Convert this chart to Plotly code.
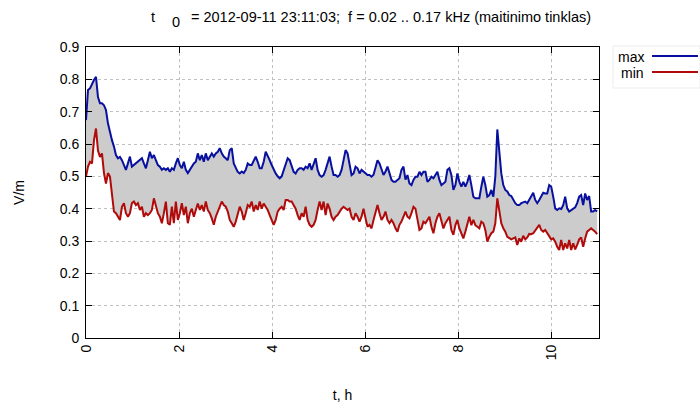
import plotly.graph_objects as go

# sampling interval of the record, hours
dt_h = 10.99 / 256

v_max = [
    0.674, 0.767, 0.772, 0.788, 0.798, 0.808, 0.745, 0.726, 0.726, 0.72,
    0.705, 0.664, 0.633, 0.612, 0.592, 0.566, 0.556, 0.56, 0.55, 0.535,
    0.52, 0.54, 0.561, 0.53, 0.535, 0.54, 0.545, 0.55, 0.556, 0.54,
    0.525, 0.55, 0.576, 0.556, 0.566, 0.55, 0.535, 0.53, 0.52, 0.525,
    0.52, 0.525, 0.514, 0.525, 0.52, 0.54, 0.556, 0.535, 0.525, 0.545,
    0.52, 0.51,
    0.52, 0.53, 0.54, 0.545, 0.571, 0.55, 0.566, 0.545, 0.571, 0.55,
    0.561, 0.571, 0.561, 0.571, 0.576, 0.587, 0.571, 0.561, 0.556, 0.55,
    0.581, 0.587, 0.54, 0.525, 0.514, 0.509, 0.515, 0.51, 0.52, 0.54,
    0.535, 0.535, 0.55, 0.561, 0.545, 0.525, 0.525, 0.545, 0.576, 0.565,
    0.55, 0.535, 0.52, 0.509, 0.5, 0.494, 0.5, 0.52, 0.535, 0.556,
    0.55, 0.535, 0.514, 0.509, 0.52, 0.525,
    0.525, 0.52, 0.53, 0.525, 0.54, 0.52, 0.54, 0.556, 0.52, 0.504,
    0.499, 0.504, 0.52, 0.54, 0.561, 0.53, 0.504, 0.504, 0.499, 0.504,
    0.52, 0.55, 0.581, 0.571, 0.53, 0.504, 0.509, 0.53, 0.525, 0.509,
    0.52, 0.514, 0.509, 0.504, 0.504, 0.499, 0.505, 0.525, 0.55, 0.54,
    0.52, 0.504, 0.515, 0.53, 0.51, 0.489, 0.483, 0.483, 0.489, 0.494,
    0.52, 0.53, 0.49,
    0.504, 0.478, 0.473, 0.489, 0.499, 0.499, 0.514, 0.504, 0.514, 0.514,
    0.483, 0.489, 0.499, 0.494, 0.504, 0.514, 0.489, 0.473, 0.478, 0.483,
    0.52, 0.525, 0.504, 0.458, 0.473, 0.509, 0.483, 0.468, 0.483, 0.468,
    0.483, 0.504, 0.473, 0.437, 0.432, 0.432, 0.432, 0.468, 0.499, 0.473,
    0.437, 0.442, 0.458, 0.437, 0.499, 0.645, 0.575, 0.509, 0.473, 0.458,
    0.453, 0.442,
    0.439, 0.427, 0.417, 0.411, 0.411, 0.417, 0.419, 0.422, 0.417, 0.427,
    0.437, 0.449, 0.427, 0.417, 0.427, 0.439, 0.449, 0.447, 0.447, 0.473,
    0.468, 0.437, 0.401, 0.396, 0.401, 0.399, 0.411, 0.437, 0.401, 0.391,
    0.396, 0.399, 0.404, 0.417, 0.437, 0.442, 0.411, 0.447, 0.427, 0.439,
    0.391, 0.391, 0.396, 0.391,
]

v_min = [
    0.499, 0.53, 0.545, 0.54, 0.612, 0.648, 0.58, 0.56, 0.571, 0.51,
    0.478, 0.51, 0.499, 0.447, 0.391, 0.386, 0.375, 0.365, 0.406, 0.417,
    0.386, 0.375, 0.386, 0.417, 0.422, 0.411, 0.417, 0.396, 0.406, 0.375,
    0.386, 0.38, 0.386, 0.396, 0.432, 0.406, 0.386, 0.375, 0.355, 0.386,
    0.422, 0.355, 0.35, 0.406, 0.355, 0.422, 0.365, 0.386, 0.417, 0.38,
    0.406, 0.355,
    0.386, 0.4, 0.375, 0.396, 0.416, 0.396, 0.411, 0.391, 0.422, 0.396,
    0.386, 0.37, 0.35, 0.375, 0.391, 0.406, 0.422, 0.411, 0.406, 0.391,
    0.365, 0.355, 0.344, 0.36, 0.386, 0.406, 0.391, 0.365, 0.386, 0.411,
    0.406, 0.422, 0.391, 0.411, 0.396, 0.422, 0.4, 0.416, 0.406, 0.396,
    0.38, 0.365, 0.35, 0.365, 0.391, 0.4, 0.406, 0.396, 0.427, 0.427,
    0.422, 0.422, 0.411, 0.4, 0.38, 0.365,
    0.386, 0.375, 0.406, 0.365, 0.35, 0.344, 0.35, 0.365, 0.396, 0.422,
    0.396, 0.422, 0.38, 0.416, 0.4, 0.375, 0.365, 0.375, 0.38, 0.391,
    0.4, 0.406, 0.4, 0.396, 0.4, 0.375, 0.365, 0.386, 0.375, 0.36,
    0.375, 0.4, 0.37, 0.344, 0.35, 0.339, 0.365, 0.391, 0.411, 0.386,
    0.365, 0.375, 0.391, 0.365, 0.355, 0.365, 0.355, 0.339, 0.329, 0.35,
    0.36, 0.375, 0.391,
    0.375, 0.37, 0.386, 0.406, 0.4, 0.365, 0.334, 0.339, 0.36, 0.355,
    0.365, 0.375, 0.344, 0.324, 0.355, 0.375, 0.386, 0.365, 0.339, 0.355,
    0.365, 0.375, 0.334, 0.319, 0.349, 0.365, 0.339, 0.324, 0.308, 0.329,
    0.355, 0.375, 0.349, 0.365, 0.349, 0.344, 0.339, 0.36, 0.355, 0.334,
    0.298, 0.313, 0.324, 0.329, 0.355, 0.432, 0.395, 0.355, 0.339, 0.329,
    0.313, 0.308,
    0.305, 0.308, 0.311, 0.288, 0.308, 0.298, 0.316, 0.305, 0.311, 0.322,
    0.321, 0.324, 0.334, 0.344, 0.35, 0.334, 0.329, 0.334, 0.324, 0.311,
    0.305, 0.308, 0.298, 0.282, 0.272, 0.303, 0.272, 0.293, 0.277, 0.303,
    0.272, 0.293, 0.274, 0.288, 0.305, 0.311, 0.282, 0.308, 0.329, 0.334,
    0.339, 0.334, 0.329, 0.321,
]

t_h = [i * dt_h for i in range(len(v_max))]

x_ticks = [0, 2, 4, 6, 8, 10]
y_ticks = [0, 0.1, 0.2, 0.3, 0.4, 0.5, 0.6, 0.7, 0.8, 0.9]

FONT = "Liberation Sans, Arial, sans-serif"
BLUE = "#0810a0"
RED = "#b00a0a"

L, R, T, B = 86, 101, 47, 68
PW, PH = 700 - L - R, 406 - T - B


def px(xp):
    return (xp - L) / PW


def py(yp):
    return (406 - B - yp) / PH


fig = go.Figure()
# grey band between min and max
fig.add_trace(go.Scatter(x=t_h, y=v_min, mode="lines", line=dict(width=0),
                         showlegend=False, hoverinfo="skip"))
fig.add_trace(go.Scatter(x=t_h, y=v_max, mode="lines", line=dict(width=0),
                         fill="tonexty", fillcolor="rgb(204,204,204)",
                         showlegend=False, hoverinfo="skip"))
fig.add_trace(go.Scatter(x=t_h, y=v_max, mode="lines", name="max",
                         line=dict(color=BLUE, width=2), showlegend=False))
fig.add_trace(go.Scatter(x=t_h, y=v_min, mode="lines", name="min",
                         line=dict(color=RED, width=2), showlegend=False))

axis_common = dict(
    showline=True, linecolor="black", linewidth=1, mirror="ticks",
    ticks="inside", ticklen=6, tickcolor="black", tickwidth=1,
    showgrid=True, gridcolor="#c0c0c0", griddash="dot", gridwidth=1,
    zeroline=False, automargin=False,
    tickfont=dict(family=FONT, size=14, color="black"),
)

fig.update_xaxes(range=[0, 11.03], tickvals=x_ticks,
                 ticktext=[str(v) for v in x_ticks], tickangle=-90,
                 title=dict(text="t, h", font=dict(family=FONT, size=14, color="black"),
                            standoff=31),
                 **axis_common)
fig.update_yaxes(range=[0, 0.9], tickvals=y_ticks,
                 ticktext=["0"] + [f"{v:.1f}" for v in y_ticks[1:]],
                 ticklabelstandoff=3,
                 title=dict(text="V/m", font=dict(family=FONT, size=14, color="black"),
                            standoff=31),
                 **axis_common)

TFONT = dict(family=FONT, size=14.5, color="black")
fig.add_annotation(text="t", xref="paper", yref="paper", x=px(153), y=py(17),
                   xanchor="center", yanchor="middle", showarrow=False, font=TFONT)
fig.add_annotation(text="0", xref="paper", yref="paper", x=px(176), y=py(22),
                   xanchor="center", yanchor="middle", showarrow=False, font=TFONT)
fig.add_annotation(
    text="= 2012-09-11 23:11:03;\u00a0\u00a0f = 0.02 .. 0.17 kHz (maitinimo tinklas)",
    xref="paper", yref="paper", x=px(189), y=py(17),
    xanchor="left", yanchor="middle", showarrow=False, font=TFONT)

# gnuplot-style key: label on the left, sample line on the right
key_items = [("max", BLUE, 57), ("min", RED, 73)]
for label, color, ypx in key_items:
    fig.add_annotation(text=label, xref="paper", yref="paper",
                       x=px(646), y=py(ypx), xanchor="right", yanchor="middle",
                       showarrow=False, font=dict(family=FONT, size=14, color="black"))
    fig.add_shape(type="line", xref="paper", yref="paper",
                  x0=px(652), x1=px(698), y0=py(ypx - 1), y1=py(ypx - 1),
                  line=dict(color=color, width=2))
fig.add_shape(type="rect", xref="paper", yref="paper",
              x0=px(613), x1=px(700), y0=py(88), y1=py(46),
              line=dict(color="#ececec", width=1))

fig.update_layout(
    width=700, height=406,
    margin=dict(l=L, r=R, t=T, b=B),
    paper_bgcolor="white", plot_bgcolor="white",
    font=dict(family=FONT, size=14, color="black"),
    showlegend=False,
)

fig.write_html(
    "out.html",
    config={"displayModeBar": False},
    post_script="document.body.style.margin='0';document.body.style.padding='0';"
                "document.documentElement.style.overflow='hidden';",
)
